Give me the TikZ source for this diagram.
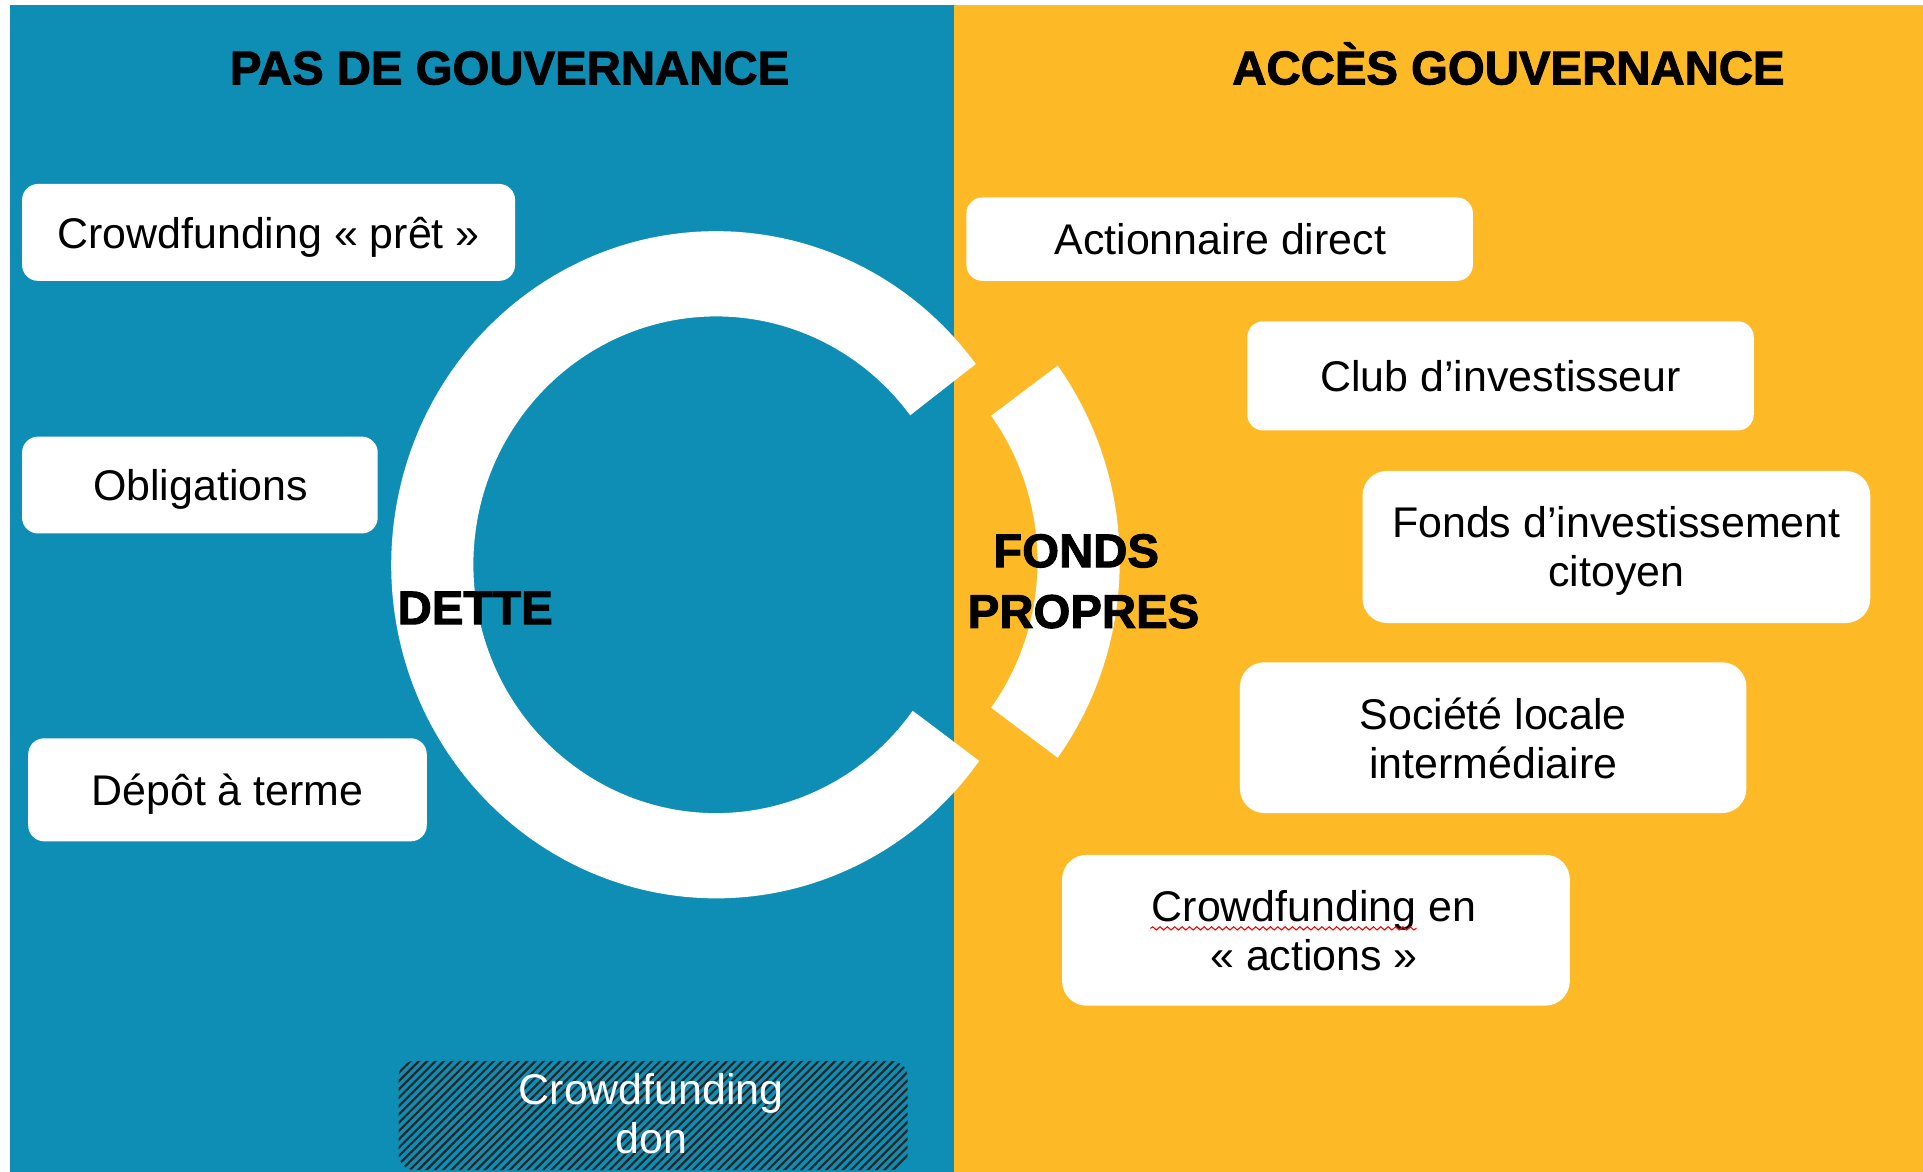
\documentclass[tikz,border=0pt]{standalone}
\usepackage{fontspec}
\setmainfont{Liberation Sans}
\newfontfamily\heavyfont[FakeBold=2]{Liberation Sans Bold}
\usetikzlibrary{calc,patterns.meta,decorations.pathmorphing}
\definecolor{bleu}{RGB}{14,142,180}
\definecolor{jaune}{RGB}{254,185,38}
\begin{document}
\begin{tikzpicture}[x=1pt,y=1pt,
  box/.style={fill=white,draw=none,rounded corners=13pt,inner sep=0pt},
  boxtext/.style={anchor=base,inner sep=0pt,font=\fontsize{35}{40}\selectfont,align=center},
  title/.style={anchor=base,inner sep=0pt,font=\fontsize{38.6}{46}\selectfont\heavyfont},
  ringlabel/.style={anchor=base,inner sep=0pt,font=\fontsize{38.6}{50}\selectfont\heavyfont,align=center}]
\useasboundingbox (0,0) rectangle (1568,-955.6);
% panels
\fill[bleu] (8,-4) rectangle (778,-955.6);
\fill[jaune] (778,-4) rectangle (1568,-955.6);
% titles
\node[title] (t1) at (415.5,-68.8) {PAS DE GOUVERNANCE};
\node[title] (t2) at (1230,-68.8) {ACCÈS GOUVERNANCE};
% donut: main slice
\fill[white] (584,-460.5) ++(37:265 and 272) arc[start angle=37,end angle=324,x radius=265,y radius=272]
  -- ($(584,-460.5)+(324:198 and 202.5)$) arc[start angle=324,end angle=37,x radius=198,y radius=202.5] -- cycle;
% exploded slice
\fill[white] (648,-458) ++(-36:265 and 272) arc[start angle=-36,end angle=36,x radius=265,y radius=272]
  -- ($(648,-458)+(36:198 and 202.5)$) arc[start angle=36,end angle=-36,x radius=198,y radius=202.5] -- cycle;
\node[ringlabel] (dette) at (387.5,-509) {DETTE};
\node[ringlabel] (fonds) at (877.5,-462.5) {FONDS};
\node[ringlabel] (propres) at (883.5,-512) {PROPRES};
% left boxes
\node[box,minimum width=402pt,minimum height=79pt] (b1) at (219,-189.5) {};
\node[boxtext] (b1t) at (219,-202.5) {Crowdfunding « prêt »};
\node[box,minimum width=290pt,minimum height=79pt] (b2) at (163,-395.5) {};
\node[boxtext] (b2t) at (163.5,-408.5) {Obligations};
\node[box,minimum width=325pt,minimum height=84pt] (b3) at (185.5,-644) {};
\node[boxtext] (b3t) at (185.5,-656.5) {Dépôt à terme};
% right boxes
\node[box,minimum width=413pt,minimum height=68pt] (b4) at (994.5,-195) {};
\node[boxtext] (b4t) at (995,-207.5) {Actionnaire direct};
\node[box,minimum width=413pt,minimum height=89pt] (b5) at (1223.5,-306.5) {};
\node[boxtext] (b5t) at (1223.5,-319.5) {Club d’investisseur};
\node[box,minimum width=414pt,minimum height=124pt,rounded corners=20pt] (b6) at (1318,-446) {};
\node[boxtext] (b6t) at (1318,-478.5) {Fonds d’investissement\\citoyen};
\node[box,minimum width=413pt,minimum height=123pt,rounded corners=20pt] (b7) at (1217.5,-601.5) {};
\node[boxtext] (b7t) at (1217.5,-634.5) {Société locale\\intermédiaire};
\node[box,minimum width=414pt,minimum height=123pt,rounded corners=20pt] (b8) at (1073,-758.5) {};
\node[boxtext] (b8t) at (1071.5,-791.5) {Crowdfunding en\\« actions »};
\coordinate (w1) at (938,-757);
\coordinate (w2) at (1155,-757);
\draw[red,line width=0.9pt,decorate,decoration={snake,amplitude=1.3pt,segment length=6pt}] (w1) -- (w2);
% hatched box
\node[draw=none,inner sep=0pt,rounded corners=13pt,minimum width=415pt,minimum height=89pt,
  pattern={Lines[angle=45,distance=4.8pt,line width=1.8pt]},pattern color=black!85] (b9) at (532.5,-909.5) {};
\node[boxtext,text=white] (b9t) at (531,-940.5) {Crowdfunding\\don};
\end{tikzpicture}
\end{document}
